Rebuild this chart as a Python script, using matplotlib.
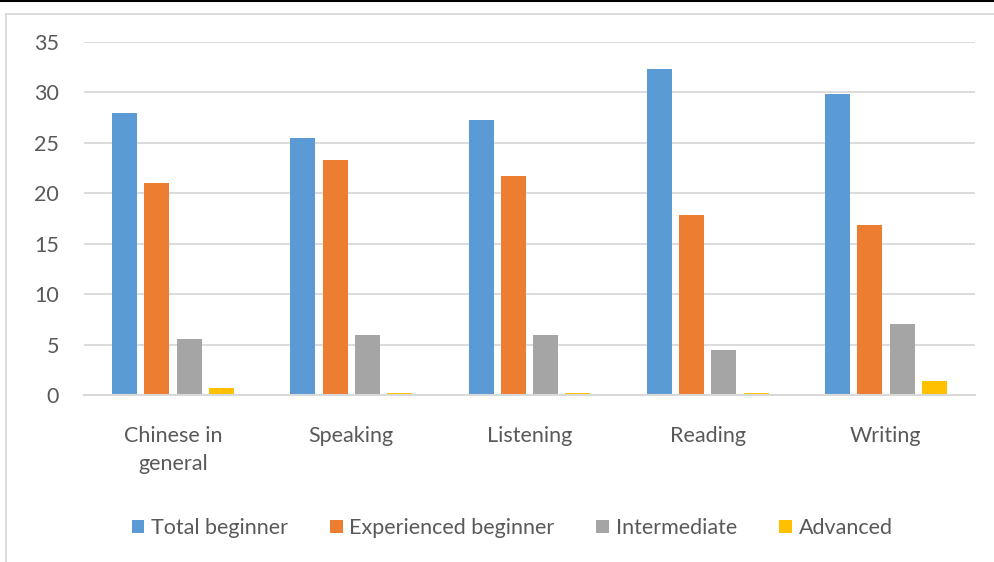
import matplotlib
matplotlib.use("Agg")
import matplotlib.pyplot as plt
import numpy as np
from matplotlib.patches import Patch, Rectangle
from matplotlib.lines import Line2D

categories = ["Chinese in\ngeneral", "Speaking", "Listening", "Reading", "Writing"]
series_names = ["Total beginner", "Experienced beginner", "Intermediate", "Advanced"]
total_beginner = [28.0, 25.5, 27.3, 32.3, 29.8]
experienced_beginner = [21.0, 23.3, 21.7, 17.8, 16.9]
intermediate = [5.6, 5.9, 5.9, 4.5, 7.0]
advanced = [0.7, 0.2, 0.2, 0.2, 1.4]
yticks = [0, 5, 10, 15, 20, 25, 30, 35]

colors = ["#5B9BD5", "#ED7D31", "#A5A5A5", "#FFC000"]
text_color = "#595959"
font = ["Lato", "DejaVu Sans"]
plt.rcParams["font.family"] = font

W, H = 995, 562
fig = plt.figure(figsize=(W / 100, H / 100), dpi=100)
ax = fig.add_axes([84 / W, 1 - 395 / H, (975 - 84) / W, (395 - 42) / H])

data = [total_beginner, experienced_beginner, intermediate, advanced]
x = np.arange(len(categories))
bw = 0.14
step = 0.181
offsets = (np.arange(4) - 1.5) * step
for vals, off, c in zip(data, offsets, colors):
    ax.bar(x + off, vals, width=bw, color=c, edgecolor="none", zorder=3)

ax.set_xlim(-0.5, len(categories) - 0.5)
ax.set_ylim(0, 35)
ax.set_yticks(yticks)
ax.set_yticklabels([str(v) for v in yticks])
ax.set_xticks(x)
ax.set_xticklabels(categories, linespacing=1.5)
ax.tick_params(axis="both", length=0, labelsize=15.5, colors=text_color)
ax.tick_params(axis="y", pad=18)
ax.tick_params(axis="x", pad=22)
ax.grid(axis="y", color="#D9D9D9", linewidth=1.3, zorder=0)
for s in ["top", "right", "left"]:
    ax.spines[s].set_visible(False)
ax.spines["bottom"].set_color("#D9D9D9")
ax.spines["bottom"].set_linewidth(1.5)
ax.spines["bottom"].set_zorder(4)

handles = [Patch(facecolor=c, edgecolor="none") for c in colors]
fig.legend(handles, series_names, loc="center", bbox_to_anchor=(512 / W, 1 - 528 / H),
           ncol=4, frameon=False, fontsize=15.5, handlelength=0.6, handleheight=0.6,
           handletextpad=0.3, columnspacing=1.95, labelcolor=text_color)

# chart border and top line
fig.add_artist(Rectangle((5.5 / W, -0.1), 1.2, (1 - 13.5 / H) + 0.1, transform=fig.transFigure,
                         fill=False, edgecolor="#D9D9D9", linewidth=1.3))
fig.add_artist(Line2D([0, 1], [1 - 0.8 / H, 1 - 0.8 / H], transform=fig.transFigure,
                      color="black", linewidth=1.5))

fig.savefig("out.png", dpi=100)
